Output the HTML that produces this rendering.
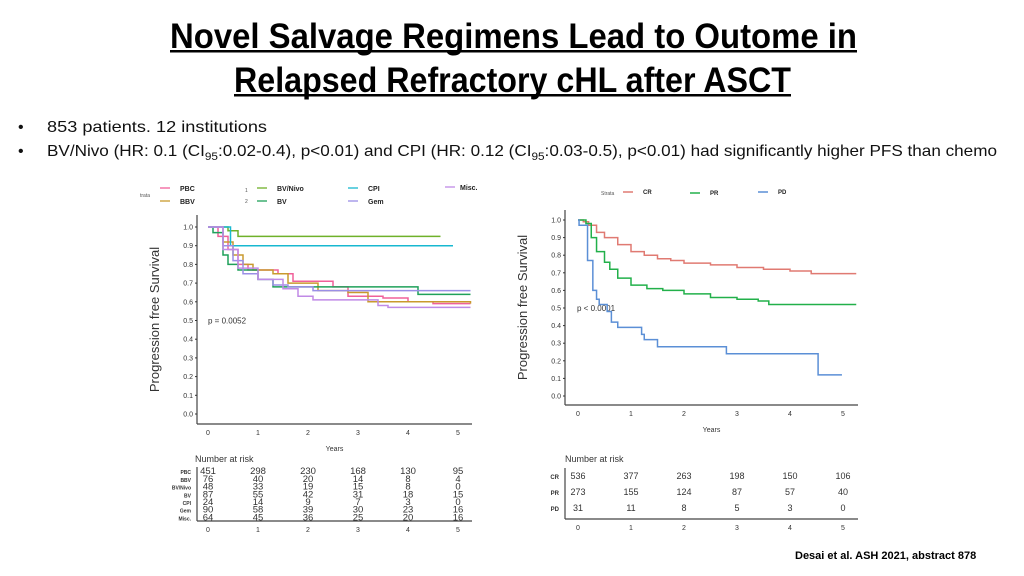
<!DOCTYPE html>
<html><head><meta charset="utf-8"><style>
html,body{margin:0;padding:0;background:#fff;}
svg{display:block;font-family:"Liberation Sans Narrow","Liberation Sans",sans-serif;}
</style></head><body>
<svg id="slide" width="1024" height="576" viewBox="0 0 1024 576">
<g font-weight="bold" font-size="35" fill="#000">
<text x="170" y="48" textLength="687" lengthAdjust="spacingAndGlyphs">Novel Salvage Regimens Lead to Outome in</text>
<rect x="170" y="50" width="687" height="2.5"/>
<text x="234" y="92" textLength="557" lengthAdjust="spacingAndGlyphs">Relapsed Refractory cHL after ASCT</text>
<rect x="234" y="94" width="557" height="2.5"/>
</g>
<g font-size="16" fill="#111">
<text x="18" y="132">•</text>
<text x="47" y="132" textLength="220" lengthAdjust="spacingAndGlyphs">853 patients. 12 institutions</text>
<text x="18" y="156">•</text>
<text x="47" y="156" textLength="950" lengthAdjust="spacingAndGlyphs">BV/Nivo (HR: 0.1 (CI<tspan font-size="11" dy="4">95</tspan><tspan dy="-4">:0.02-0.4), p&lt;0.01) and CPI (HR: 0.12 (CI</tspan><tspan font-size="11" dy="4">95</tspan><tspan dy="-4">:0.03-0.5), p&lt;0.01) had significantly higher PFS than chemo</tspan></text>
</g>
<text x="795" y="559" font-size="11" font-weight="bold" font-family="Liberation Sans, sans-serif">Desai et al. ASH 2021, abstract  878</text>
<g id="left"></g>
<g id="right"></g>
</svg>
<script>
// Left chart data (time in years, survival)
const leftNames = ["PBC","BBV","BV/Nivo","BV","CPI","Gem","Misc."];
const leftColors = ["#f0609a","#c99a2e","#6fb12a","#1fa05a","#18b8d0","#9a8fe6","#c08ae6"];
const leftPBC   = [[0,1],[0.2,0.95],[0.4,0.88],[0.6,0.8],[0.8,0.77],[1.4,0.75],[1.7,0.71],[2.5,0.68],[2.8,0.63],[3.5,0.62],[4,0.6],[4.5,0.59],[5.25,0.59]];
const leftBBV   = [[0,1],[0.3,0.92],[0.5,0.85],[0.7,0.8],[0.9,0.77],[1.3,0.75],[1.6,0.7],[2.2,0.66],[2.8,0.65],[3.2,0.6],[5.25,0.59]];
const leftBVNivo= [[0,1],[0.4,0.98],[0.6,0.95],[4.65,0.95]];
const leftBV    = [[0,1],[0.1,0.97],[0.3,0.85],[0.4,0.8],[0.6,0.77],[1,0.72],[1.3,0.68],[2,0.68],[4.2,0.64],[5.25,0.64]];
const leftCPI   = [[0,1],[0.45,0.9],[4.9,0.9]];
const leftGem   = [[0,1],[0.3,0.9],[0.5,0.82],[0.7,0.75],[1,0.72],[1.3,0.69],[1.6,0.68],[2.1,0.66],[2.7,0.66],[5.25,0.66]];
const leftMisc  = [[0,1],[0.3,0.88],[0.6,0.78],[1,0.72],[1.5,0.67],[1.8,0.63],[2.1,0.61],[3.4,0.58],[3.6,0.57],[5.25,0.57]];
const leftSeries = [leftPBC,leftBBV,leftBVNivo,leftBV,leftCPI,leftGem,leftMisc];
const leftRisk = [[451,298,230,168,130,95],[76,40,20,14,8,4],[48,33,19,15,8,0],[87,55,42,31,18,15],[24,14,9,7,3,0],[90,58,39,30,23,16],[64,45,36,25,20,16]];
// Right chart data
const rightNames = ["CR","PR","PD"];
const rightColors = ["#e07a72","#22b04a","#5b8fd6"];
const rightCR = [[0,1],[0.1,0.99],[0.2,0.97],[0.35,0.93],[0.5,0.9],[0.75,0.86],[1,0.82],[1.25,0.8],[1.5,0.78],[1.75,0.77],[2,0.755],[2.5,0.745],[3,0.73],[3.5,0.72],[4,0.71],[4.4,0.695],[5.25,0.695]];
const rightPR = [[0,1],[0.15,0.98],[0.25,0.9],[0.35,0.82],[0.5,0.76],[0.6,0.72],[0.75,0.67],[1,0.63],[1.3,0.61],[1.6,0.6],[2,0.58],[2.5,0.56],[3,0.55],[3.4,0.54],[3.6,0.52],[5.25,0.52]];
const rightPD = [[0,1],[0.02,0.97],[0.15,0.97],[0.18,0.77],[0.28,0.6],[0.35,0.55],[0.4,0.52],[0.55,0.48],[0.63,0.42],[0.75,0.39],[1.2,0.35],[1.25,0.32],[1.5,0.28],[2.8,0.24],[4.53,0.12],[4.98,0.12]];
const rightSeries = [rightCR,rightPR,rightPD];
const rightRisk = [[536,377,263,198,150,106],[273,155,124,87,57,40],[31,11,8,5,3,0]];
const xTicks = [0,1,2,3,4,5];
const yTicks = [0,0.1,0.2,0.3,0.4,0.5,0.6,0.7,0.8,0.9,1.0];

const NS="http://www.w3.org/2000/svg";
function el(parent,tag,attrs,text){const e=document.createElementNS(NS,tag);for(const k in attrs)e.setAttribute(k,attrs[k]);if(text!==undefined)e.textContent=text;parent.appendChild(e);return e;}

function drawChart(g,cfg){
  const X=t=>cfg.x0+t*cfg.xs, Y=s=>cfg.y0-s*cfg.ys;
  const ff="Liberation Sans, sans-serif";
  let a=el(g,'line',{x1:cfg.axX,y1:cfg.top,x2:cfg.axX,y2:cfg.axY,stroke:'#444','stroke-width':1.2});
  
  
  a=el(g,'line',{x1:cfg.axX,y1:cfg.axY,x2:cfg.right,y2:cfg.axY,stroke:'#444','stroke-width':1.2});
  
  
  yTicks.forEach(v=>{
    const t=el(g,'text',{x:cfg.axX-4,y:Y(v)+2.5,'font-size':7,'text-anchor':'end',fill:'#333','font-family':ff},v.toFixed(1));
    
    
    el(g,'line',{x1:cfg.axX-2,x2:cfg.axX,y1:Y(v),y2:Y(v),stroke:'#333'});
  });
  xTicks.forEach(v=>{
    const t=el(g,'text',{x:X(v),y:cfg.axY+11,'font-size':7,'text-anchor':'middle',fill:'#333','font-family':ff},v);
    
    
  });
  const yt=el(g,'text',{x:0,y:0,'font-size':13,fill:'#333','font-family':ff,'text-anchor':'middle',transform:`translate(${cfg.axX-38},${(cfg.top+cfg.axY)/2}) rotate(-90)`},'Progression free Survival');
  
  
  const xt=el(g,'text',{x:(cfg.axX+cfg.right)/2,y:cfg.axY+27,'font-size':7,'text-anchor':'middle',fill:'#333','font-family':ff},'Years');
  
  
  const pv=el(g,'text',{x:cfg.pX,y:Y(0.5)+3,'font-size':8,fill:'#333','font-family':ff},cfg.pText);
  
  
  cfg.series.forEach((s,i)=>{
    let d='M'+X(s[0][0])+','+Y(s[0][1]);
    for(let k=1;k<s.length;k++){d+=' H'+X(s[k][0])+' V'+Y(s[k][1]);}
    const p=el(g,'path',{d:d,fill:'none',stroke:cfg.colors[i],'stroke-width':1.5});
    
    
  });
  const rt=el(g,'text',{x:cfg.riskTitleX,y:cfg.riskTitleY,'font-size':cfg.riskTitleSize,fill:'#333','font-family':ff},'Number at risk');
  
  
  el(g,'line',{x1:cfg.axX,y1:cfg.riskTop,x2:cfg.axX,y2:cfg.riskBottom,stroke:'#444','stroke-width':1.2});
  el(g,'line',{x1:cfg.axX,y1:cfg.riskBottom,x2:cfg.right,y2:cfg.riskBottom,stroke:'#444','stroke-width':1.2});
  cfg.risk.forEach((row,r)=>{
    const ry=cfg.riskTop+cfg.riskRow*(r+0.5)+cfg.riskFont*0.35;
    const lab=el(g,'text',{x:cfg.axX-6,y:ry,'font-size':cfg.riskLabelSize,'text-anchor':'end','font-weight':'bold',fill:'#333','font-family':ff},cfg.names[r]);
    
    
    row.forEach((v,c)=>{
      const t=el(g,'text',{x:X(xTicks[c]),y:ry,'font-size':cfg.riskFont,'text-anchor':'middle',fill:'#333','font-family':ff},v);
      
      
    });
  });
  xTicks.forEach(v=>{el(g,'text',{x:X(v),y:cfg.riskBottom+11,'font-size':7,'text-anchor':'middle',fill:'#333','font-family':ff},v);});
}

const L=document.getElementById('left');
drawChart(L,{x0:208,xs:50,y0:414,ys:187,axX:197,axY:424,top:215,right:472,series:leftSeries,colors:leftColors,names:leftNames,pX:208,pText:'p = 0.0052',
  risk:leftRisk,riskTitleX:195,riskTitleY:462,riskTitleSize:9,riskTop:467,riskBottom:521,riskRow:7.7,riskFont:9.5,riskLabelSize:5});
el(L,'text',{x:140,y:197,'font-size':5,fill:'#555','font-family':'Liberation Sans, sans-serif'},'trata');
const legL=[[160,191,'PBC'],[160,204,'BBV'],[257,191,'BV/Nivo'],[257,204,'BV'],[348,191,'CPI'],[348,204,'Gem'],[445,190,'Misc.']];
legL.forEach((e,i)=>{
  const line=el(L,'line',{x1:e[0],x2:e[0]+10,y1:e[1]-3,y2:e[1]-3,stroke:leftColors[i],'stroke-width':1.3});
  
  
  const t=el(L,'text',{x:e[0]+(i==6?15:20),y:e[1],'font-size':7,'font-weight':'bold',fill:'#222','font-family':'Liberation Sans, sans-serif'},e[2]);
  
  
});
el(L,'text',{x:245,y:192,'font-size':5,fill:'#555'},'1');
el(L,'text',{x:245,y:203,'font-size':5,fill:'#555'},'2');

const R=document.getElementById('right');
drawChart(R,{x0:578,xs:53,y0:396,ys:176,axX:565,axY:405,top:210,right:858,series:rightSeries,colors:rightColors,names:rightNames,pX:577,pText:'p < 0.0001',
  risk:rightRisk,riskTitleX:565,riskTitleY:462,riskTitleSize:9,riskTop:468,riskBottom:519,riskRow:16,riskFont:9,riskLabelSize:6});
el(R,'text',{x:601,y:195,'font-size':5,fill:'#555','font-family':'Liberation Sans, sans-serif'},'Strata');
const legR=[[623,194,'CR'],[690,195,'PR'],[758,194,'PD']];
legR.forEach((e,i)=>{
  const line=el(R,'line',{x1:e[0],x2:e[0]+10,y1:e[1]-2,y2:e[1]-2,stroke:rightColors[i],'stroke-width':1.5});
  
  
  const t=el(R,'text',{x:e[0]+20,y:e[1],'font-size':6,'font-weight':'bold',fill:'#222','font-family':'Liberation Sans, sans-serif'},e[2]);
  
  
});
</script>
</body></html>
